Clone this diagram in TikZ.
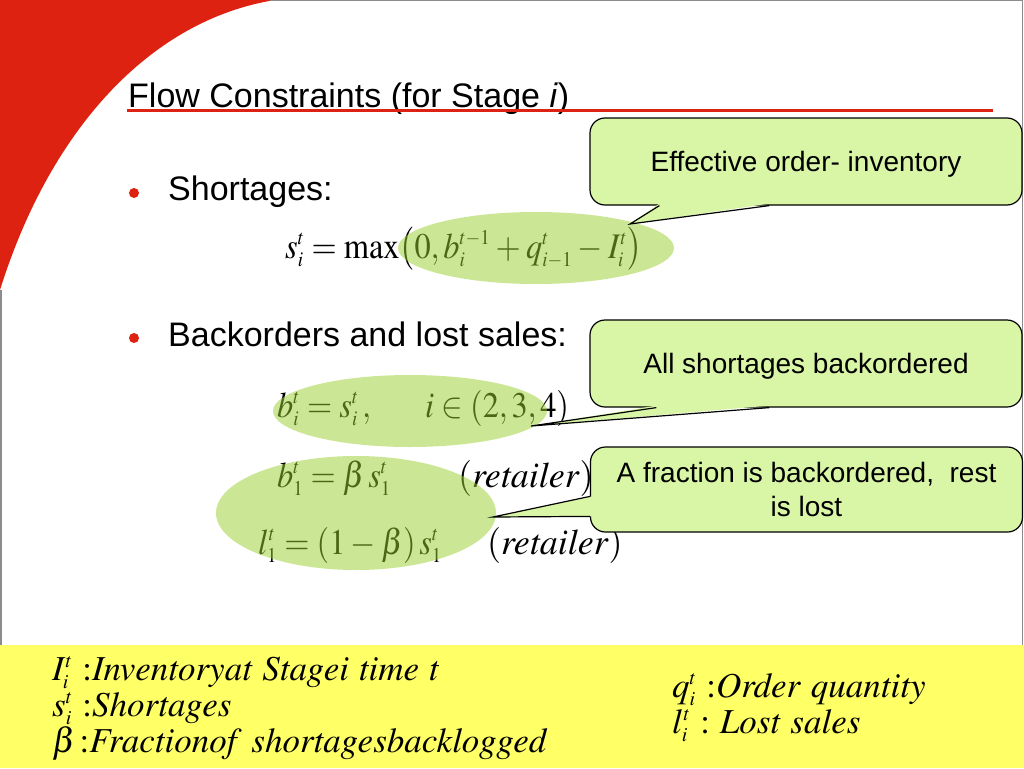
\documentclass[tikz,border=0pt]{standalone}
\usepackage{graphicx}
\usepackage{mathptmx}
\usepackage[no-math]{fontspec}
\setmainfont{Liberation Sans}
\usetikzlibrary{calc}
\DeclareMathSizes{36}{36}{21}{16}
\DeclareMathSizes{35}{35}{20}{15}
\definecolor{slidered}{HTML}{DD2212}
\definecolor{callfill}{HTML}{D9F5A6}
\definecolor{hilite}{RGB}{153,209,45}
\definecolor{bandyellow}{HTML}{FFFF66}
\definecolor{framegray}{HTML}{8C8C8C}
\medmuskip=3mu
\thickmuskip=4mu
\newcommand\narrow[1]{\scalebox{0.9}[1]{#1}}

\begin{document}
\begin{tikzpicture}
  [x=1pt,y=-1pt,
   every node/.style={inner sep=0pt},
   heading/.style={anchor=base west,font=\fontsize{34}{40}\selectfont},
   formula/.style={anchor=base west,font=\fontsize{36}{40}\selectfont},
   legend/.style={anchor=base west,font=\fontsize{35}{40}\selectfont},
   bullet/.style={circle,fill=slidered,minimum size=10pt},
   callbox/.style={draw,line width=1.2pt,fill=callfill,rounded corners=15pt,
     minimum width=432pt,minimum height=87pt,align=center,
     font=\fontsize{28}{34}\selectfont},
   glow/.style={fill=hilite,fill opacity=.5}]

  \useasboundingbox (0,0) rectangle (1024,768);
  \fill[white] (0,0) rectangle (1024,768);

  % slide corner, frame and legend band
  \fill[slidered] (0,0) -- (275,0) .. controls (150,20) and (50,130) .. (0,290) -- cycle;
  \draw[framegray,line width=1.5pt] (0.75,290) -- (0.75,645);
  \draw[framegray,line width=1.5pt] (270,0.75) -- (1022.5,0.75) -- (1022.5,645);
  \fill[bandyellow] (0,645) rectangle (1024,768);

  \node[heading] (title) at (128,107) {Flow Constraints (for Stage \textit{i})};
  \draw[slidered,line width=3.5pt] ($(title.base west)+(-1,3.5)$) -- (993,110.5);

  \node[bullet] (dot1) at (134,193) {};
  \node[heading] (short) at (168,200) {Shortages:};
  \node[bullet] (dot2) at (134,338) {};
  \node[heading] (back) at (168,346) {Backorders and lost sales:};

  \node[formula] (eqShort) at (285,258)
    {\narrow{$s_i^t = \mathrm{max}\bigl(0, b_i^{t-1} + q_{i-1}^t - I_i^t\bigr)$}};
  \node[formula] (eqBack) at (277,417) {\narrow{$b_i^t = s_i^t\,,\quad\ \ i\in(2,3,4)$}};
  \node[formula] (eqFrac) at (277,487) {\narrow{$b_1^t = \beta\, s_1^t$}};
  \node[formula] (retA) at (458,487) {$(\mathit{retailer})$};
  \node[formula] (eqLost) at (258,554) {\narrow{$l_1^t = (1-\beta)\, s_1^t$}};
  \node[formula] (retB) at (487,554) {$(\mathit{retailer})$};

  \fill[glow] (536,248) ellipse [x radius=138,y radius=36];
  \fill[glow] (410,411) ellipse [x radius=137,y radius=36];
  \fill[glow] (356,513) ellipse [x radius=140,y radius=57];

  % callouts
  \node[callbox,text depth=0pt] (effBox) at (806,161.5) {Effective order- inventory};
  \node[callbox,text depth=0pt] (allBox) at (806,363.5) {All shortages backordered};
  \node[callbox,minimum height=85pt] (fracBox) at (806.5,489.5)
    {A fraction is backordered,~ rest\\is lost};

  \coordinate (effTip) at (630,224);
  \coordinate (allTip) at (531,426);
  \coordinate (fracTip) at (493,517);

  \fill[callfill] ($(effBox.south west)+(70,-2)$) -- (effTip) -- ($(effBox.south west)+(180,-2)$) -- cycle;
  \draw[line width=1.2pt] ($(effBox.south west)+(70,0)$) -- (effTip) -- ($(effBox.south west)+(180,0)$);
  \fill[callfill] ($(allBox.south west)+(67,-2)$) -- (allTip) -- ($(allBox.south west)+(180,-2)$) -- cycle;
  \draw[line width=1.2pt] ($(allBox.south west)+(67,0)$) -- (allTip) -- ($(allBox.south west)+(180,0)$);
  \fill[callfill] ($(fracBox.north west)+(2,50)$) -- (fracTip) -- ($(fracBox.north west)+(2,70)$) -- cycle;
  \draw[line width=1.2pt] ($(fracBox.north west)+(0,50)$) -- (fracTip) -- ($(fracBox.north west)+(0,70)$);

  % legend
  \node[legend] (legI) at (52,680) {$I_i^t\ {:}\mathit{Inventoryat\ Stagei\ time\ t}$};
  \node[legend] (legS) at (52,716) {$s_i^t\ {:}\mathit{Shortages}$};
  \node[legend] (legB) at (52,752) {$\beta\,{:}\mathit{Fractionof\ shortagesbacklogged}$};
  \node[legend] (legQ) at (672,697) {$q_i^t\ {:}\mathit{Order\ quantity}$};
  \node[legend] (legL) at (672,733) {$l_i^t\ {:}\ \mathit{Lost\ sales}$};

\end{tikzpicture}
\end{document}
